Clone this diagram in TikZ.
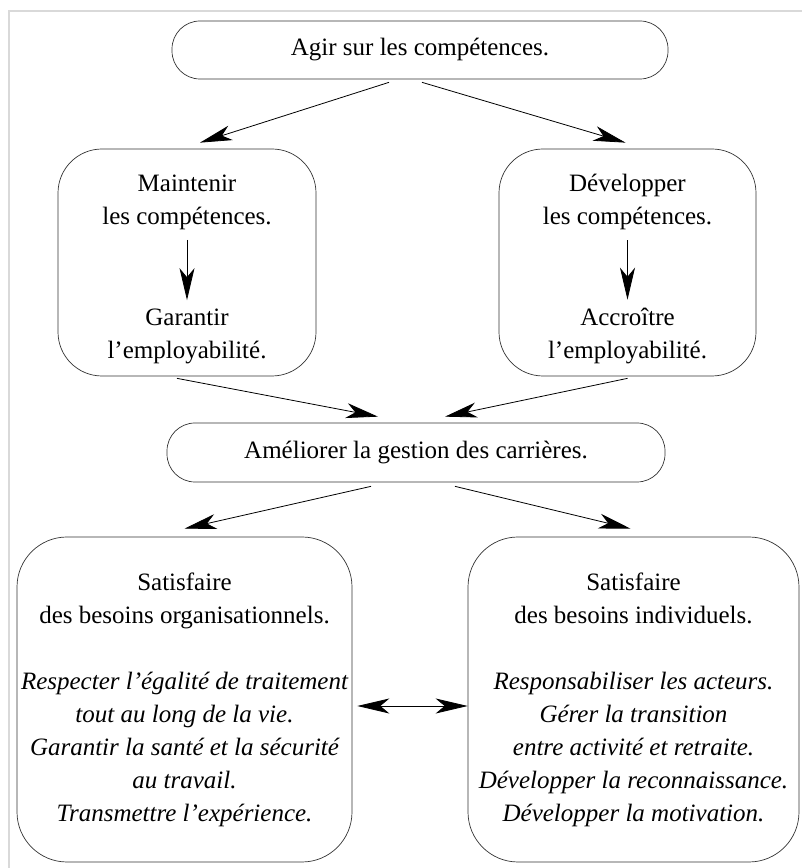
\documentclass[tikz,border=0pt]{standalone}
\usepackage{fontspec}
\setmainfont{Liberation Serif}
\usetikzlibrary{arrows.meta}
\tikzset{
  bigbox/.style={draw=black!80, line width=0.7pt, inner sep=0pt},
  txt/.style={align=center, inner sep=0pt, font=\fontsize{25}{33}\selectfont},
  pointe/.tip={Stealth[length=32pt,width=15pt,inset=9pt]},
  fleche/.style={-pointe},
  flechedbl/.style={pointe-pointe},
}

\begin{document}
\begin{tikzpicture}[x=1pt, y=1pt, line width=0.8pt]
\useasboundingbox (0,0) rectangle (802,868);
\draw[black!15, line width=1.2pt] (9,0)--(9,857)--(802,857);

\node[bigbox, txt, minimum width=496pt, minimum height=58pt, rounded corners=28pt] (agir) at (420,818) {Agir sur les compétences.};

\node[bigbox, minimum width=258pt, minimum height=227pt, rounded corners=44pt] (maint) at (187,605.5) {};
\node[txt] (maintA) at (187,666) {Maintenir\\les compétences.};
\node[txt] (maintB) at (187,532) {Garantir\\l’employabilité.};

\node[bigbox, minimum width=257pt, minimum height=227pt, rounded corners=44pt] (dev) at (627.5,605.5) {};
\node[txt] (devA) at (627.5,666) {Développer\\les compétences.};
\node[txt] (devB) at (627.5,532) {Accroître\\l’employabilité.};

\node[bigbox, txt, minimum width=498pt, minimum height=59pt, rounded corners=28pt] (amel) at (416,415.5) {Améliorer la gestion des carrières.};

\node[bigbox, txt, minimum width=335pt, minimum height=325pt, rounded corners=50pt] (orga) at (184.5,168.5)
  {Satisfaire\\des besoins organisationnels.\\[33pt]
   \itshape Respecter l’égalité de traitement\\\itshape tout au long de la vie.\\
   \itshape Garantir la santé et la sécurité\\\itshape au travail.\\\itshape Transmettre l’expérience.};
\node[bigbox, txt, minimum width=331pt, minimum height=325pt, rounded corners=50pt] (indiv) at (633.5,168.5)
  {Satisfaire\\des besoins individuels.\\[33pt]
   \itshape Responsabiliser les acteurs.\\\itshape Gérer la transition\\
   \itshape entre activité et retraite.\\\itshape Développer la reconnaissance.\\\itshape Développer la motivation.};

% fleches
\draw[fleche] ([xshift=-31pt,yshift=-3pt]agir.south) -- ([xshift=13pt,yshift=6pt]maint.north);
\draw[fleche] ([xshift=2pt,yshift=-3pt]agir.south) -- ([xshift=-2pt,yshift=6pt]dev.north);

\draw[fleche, shorten <=10pt, shorten >=8pt] (maintA.south) -- (maintB.north);
\draw[fleche, shorten <=10pt, shorten >=8pt] (devA.south) -- (devB.north);

\draw[fleche] ([xshift=-10pt,yshift=-2pt]maint.south) -- ([xshift=-38pt,yshift=6pt]amel.north);
\draw[fleche] ([yshift=-2pt]dev.south) -- ([xshift=29pt,yshift=6pt]amel.north);

\draw[fleche] ([xshift=-45pt,yshift=-4pt]amel.south) -- ([yshift=8pt]orga.north);
\draw[fleche] ([xshift=39pt,yshift=-4pt]amel.south) -- ([xshift=-3pt,yshift=8pt]indiv.north);

\draw[flechedbl] ([xshift=5pt,yshift=-6.5pt]orga.east) -- ([yshift=-6.5pt]indiv.west);

\end{tikzpicture}
\end{document}
